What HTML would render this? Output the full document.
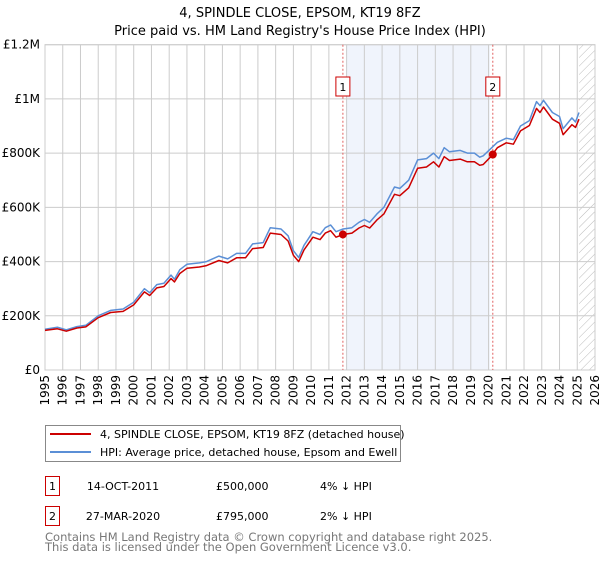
<!DOCTYPE html>
<html><head><meta charset="utf-8"><style>
body{margin:0;background:#fff;font-family:"DejaVu Sans","Liberation Sans",sans-serif;}
svg text{font-family:"DejaVu Sans","Liberation Sans",sans-serif;}
</style></head><body>
<svg id="c" width="600" height="560"></svg>
<script>
const yearsArr=[1995.0,1995.7,1996.2,1996.8,1997.3,1998.0,1998.7,1999.4,2000.0,2000.6,2000.9,2001.3,2001.7,2002.1,2002.3,2002.6,2003.0,2003.7,2004.1,2004.8,2005.3,2005.8,2006.3,2006.7,2007.3,2007.7,2008.3,2008.7,2009.0,2009.3,2009.6,2009.8,2010.1,2010.5,2010.8,2011.1,2011.4,2011.8,2012.3,2012.7,2013.0,2013.3,2013.7,2014.1,2014.7,2015.0,2015.5,2016.0,2016.5,2016.9,2017.2,2017.5,2017.8,2018.4,2018.8,2019.2,2019.5,2019.7,2020.1,2020.5,2021.0,2021.4,2021.8,2022.3,2022.7,2022.9,2023.1,2023.6,2024.0,2024.2,2024.7,2024.9,2025.1];
const hpiValues=[150,158,148,160,165,200,220,225,250,300,285,315,320,350,335,370,390,395,400,420,410,430,430,465,470,525,520,495,440,415,460,480,510,500,525,535,510,520,525,545,555,545,575,600,675,670,700,775,780,800,780,820,805,810,800,800,785,790,815,840,855,850,900,920,990,975,995,950,935,890,930,915,950];
const propValues=[146,152,143,155,159,193,212,216,240,288,275,303,308,337,325,356,375,380,385,404,395,414,414,448,452,505,500,476,423,400,443,462,490,481,505,514,490,500,505,524,533,524,553,576,648,643,672,744,749,768,749,787,773,778,768,768,755,758,785,820,838,833,882,902,965,950,970,925,910,868,905,895,925];
const saleYears=[2011.79,2020.24];
const salePrices=[500,795];
const yTicks=[0,200,400,600,800,1000,1200];
const yTickLabels=["£0","£200K","£400K","£600K","£800K","£1M","£1.2M"];
const xTicks=[];for(let y=1995;y<=2026;y++)xTicks.push(y);

const NS="http://www.w3.org/2000/svg";
const svg=document.getElementById('c');
const L=45,R=595,T=44.7,B=370;
const X=y=>L+(y-1995)/(2026-1995)*(R-L);
const Y=v=>B-v/1200*(B-T);
function mk(tag,attrs,parent){const e=document.createElementNS(NS,tag);for(const k in attrs)e.setAttribute(k,attrs[k]);(parent||svg).appendChild(e);return e;}

let t=mk('text',{x:300,y:17,'text-anchor':'middle','font-size':13,fill:'#000'});t.textContent="4, SPINDLE CLOSE, EPSOM, KT19 8FZ";


t=mk('text',{x:300,y:35,'text-anchor':'middle','font-size':13,fill:'#000'});t.textContent="Price paid vs. HM Land Registry's House Price Index (HPI)";



let sh=mk('rect',{x:X(saleYears[0])+3,y:T,width:X(saleYears[1])-X(saleYears[0])-6,height:B-T,fill:'#f0f4fc'});


const defs=mk('defs',{});
const pat=mk('pattern',{id:'h',width:6,height:6,patternUnits:'userSpaceOnUse',patternTransform:'rotate(45)'},defs);
mk('line',{x1:0,y1:0,x2:0,y2:6,stroke:'#bbb','stroke-width':1},pat);
let hr=mk('rect',{x:X(2025.1),y:T,width:R-X(2025.1),height:B-T,fill:'url(#h)'});



xTicks.forEach(y=>{mk('line',{x1:X(y),y1:T,x2:X(y),y2:B,stroke:'#ccc','stroke-width':1});
 const tx=mk('text',{x:0,y:0,'font-size':12,'text-anchor':'end',transform:`translate(${X(y)+4},${B+5}) rotate(-90)`,fill:'#000'});tx.textContent=y;
 
 });
yTicks.forEach((v,i)=>{mk('line',{x1:L,y1:Y(v),x2:R,y2:Y(v),stroke:'#ccc','stroke-width':1});
 const tx=mk('text',{x:40,y:Y(v)+4,'font-size':12,'text-anchor':'end',fill:'#000'});tx.textContent=yTickLabels[i];
 
 });
mk('rect',{x:L,y:T,width:R-L,height:B-T,fill:'none',stroke:'#ccc'});

saleYears.forEach((sy,i)=>{
 const ln=mk('line',{x1:X(sy),y1:T,x2:X(sy),y2:B,stroke:'#e06060','stroke-dasharray':'2,2','stroke-width':1});
 
 
 const bx=mk('rect',{x:X(sy)-7,y:77,width:14,height:19,fill:'#fff',stroke:'#cc0000'});
 
 
 const tx=mk('text',{x:X(sy),y:91,'font-size':11,'text-anchor':'middle'});tx.textContent=i+1;
});
function path(vals,color,name){
 let d=vals.map((v,i)=>(i?'L':'M')+X(yearsArr[i]).toFixed(1)+','+Y(v).toFixed(1)).join('');
 const p=mk('path',{d,fill:'none',stroke:color,'stroke-width':1.5,'stroke-linejoin':'round'});
 
 
}
path(hpiValues,'#5b8fd6','hpi-line');
path(propValues,'#cc0000','property-line');
saleYears.forEach((sy,i)=>{const c=mk('circle',{cx:X(sy),cy:Y(salePrices[i]),r:4,fill:'#cc0000'});
 
 });

const lg=mk('g',{});


mk('rect',{x:45.5,y:425.5,width:355,height:36,fill:'#fff',stroke:'#888'},lg);
mk('line',{x1:50,y1:434,x2:91,y2:434,stroke:'#cc0000','stroke-width':2},lg);
mk('line',{x1:50,y1:452,x2:91,y2:452,stroke:'#5b8fd6','stroke-width':2},lg);
t=mk('text',{x:100,y:438,'font-size':11},lg);t.textContent="4, SPINDLE CLOSE, EPSOM, KT19 8FZ (detached house)";


t=mk('text',{x:100,y:456,'font-size':11},lg);t.textContent="HPI: Average price, detached house, Epsom and Ewell";



const rows=[["1","14-OCT-2011","£500,000","4% ↓ HPI",476],["2","27-MAR-2020","£795,000","2% ↓ HPI",506]];
rows.forEach(r=>{
 const g=mk('g',{});
 
 
 mk('rect',{x:45.5,y:r[4]+0.5,width:14,height:19,fill:'#fff',stroke:'#cc0000'},g);
 let a=mk('text',{x:52.5,y:r[4]+14,'font-size':11,'text-anchor':'middle'},g);a.textContent=r[0];
 a=mk('text',{x:123,y:r[4]+14,'font-size':11,'text-anchor':'middle'},g);a.textContent=r[1];
 a=mk('text',{x:216,y:r[4]+14,'font-size':11},g);a.textContent=r[2];
 a=mk('text',{x:320,y:r[4]+14,'font-size':11},g);a.textContent=r[3];
});
t=mk('text',{x:45,y:541,'font-size':11.5,fill:'#777'});t.textContent="Contains HM Land Registry data © Crown copyright and database right 2025.";


t=mk('text',{x:45,y:551,'font-size':11.5,fill:'#777'});t.textContent="This data is licensed under the Open Government Licence v3.0.";


</script>
</body></html>
